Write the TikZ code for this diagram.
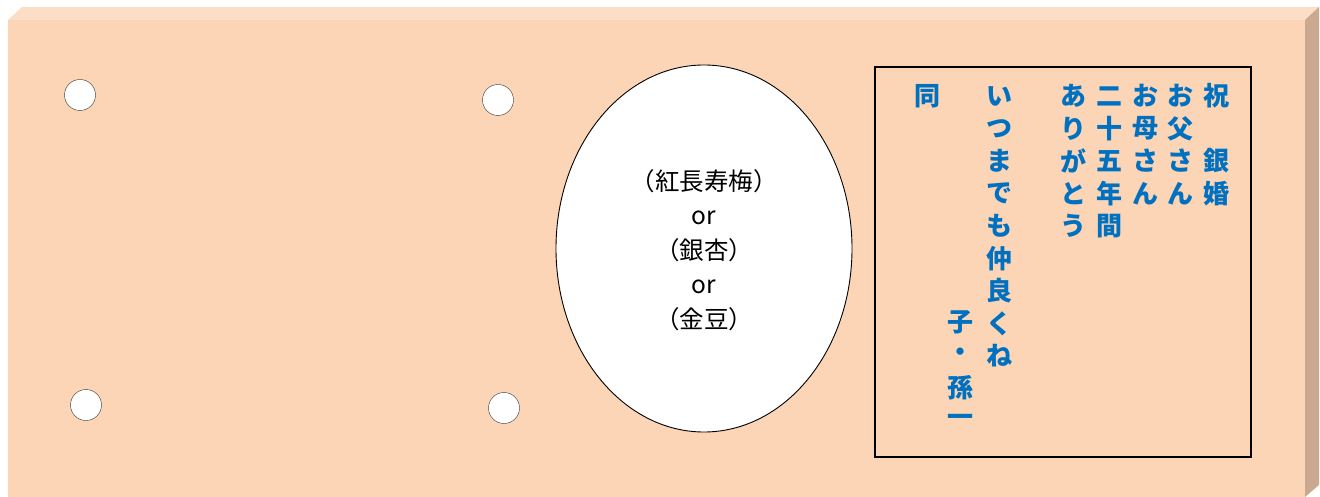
\documentclass[tikz,border=0pt]{standalone}
\usepackage{fontspec}
\newfontfamily\jpfont{Noto Sans CJK JP}
\definecolor{boardfront}{HTML}{FBD5B5}
\definecolor{boardtop}{HTML}{FCDEC6}
\definecolor{boardside}{HTML}{CBA990}
\definecolor{msgblue}{HTML}{0070C0}
\tikzset{
	hole/.style={draw=black!80,circle,fill=white,minimum size=31pt,inner sep=0pt},
	msg/.style={text=msgblue,inner sep=0pt,font=\jpfont\bfseries\fontsize{26}{26}\selectfont},
	kind/.style={align=center,inner sep=0pt,font=\jpfont\fontsize{24.5}{34.5}\selectfont}
}
\begin{document}
\begin{tikzpicture}[x=1pt,y=-1pt]
		\useasboundingbox (0,0) rectangle (1320,497);

		% board
		\fill[boardtop] (8,20) -- (22,7) -- (1319,7) -- (1305,20) -- cycle;
		\fill[boardside] (1305,20) -- (1319,7) -- (1319,485) -- (1305,497) -- cycle;
		\fill[boardfront] (8,20) rectangle (1305,497);

		% holes
		\node[hole] (h1) at (80,95) {};
		\node[hole] (h2) at (498,100) {};
		\node[hole] (h3) at (86,405) {};
		\node[hole] (h4) at (504,408) {};

		% plant
		\draw[fill=white,line width=0.9pt] (704,248.5) ellipse (148pt and 183.5pt);
		\node[kind] (kinds) at (704,250) {（紅長寿梅）\\or\\（銀杏）\\or\\（金豆）};

		% message
		\draw[line width=1.3pt] (875,67) rectangle (1251,457);
		\foreach \x/\ystart/\chars [count=\k] in {
			1216/96/{祝,\phantom{祝},銀,婚},
			1180/96/{お,父,さ,ん},
			1145/96/{お,母,さ,ん},
			1109/96/{二,十,五,年,間},
			1073/96/{あ,り,が,と,う},
			999/96/{い,つ,ま,で,も,仲,良,く,ね},
			960/322.5/{子,・,孫,一},
			927/96/{同}}
		{
			\foreach \c [count=\i] in \chars
				\node[msg] (m\k-\i) at (\x,{\ystart+32.5*(\i-1)}) {\c};
		}
	\end{tikzpicture}
\end{document}
